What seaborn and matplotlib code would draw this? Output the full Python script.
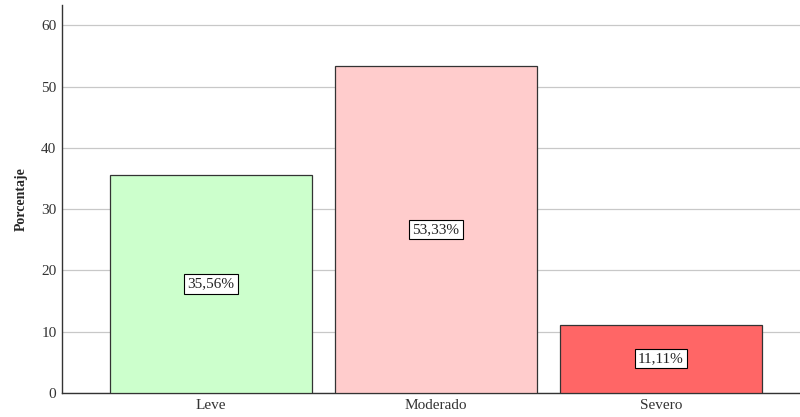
import matplotlib
matplotlib.use("Agg")
import matplotlib.pyplot as plt
import seaborn as sns
import pandas as pd

# data
categorias = ["Leve", "Moderado", "Severo"]
porcentajes = [35.56, 53.33, 11.11]
colores = ["#ccffcc", "#ffcccc", "#ff6666"]

df = pd.DataFrame({"Nivel": categorias, "Porcentaje": porcentajes})

sns.set_style("white")
plt.rcParams["font.family"] = ["Liberation Serif", "DejaVu Serif"]

fig = plt.figure(figsize=(8, 4.17), dpi=100)
ax = fig.add_axes([0.0775, 0.0576, 0.9225, 0.9304])

sns.barplot(data=df, x="Nivel", y="Porcentaje", hue="Nivel", palette=colores,
            saturation=1, width=0.898, edgecolor="#333333", linewidth=0.9,
            legend=False, ax=ax, zorder=3)

# percentage labels, boxed, in the middle of each bar
for i, v in enumerate(porcentajes):
    ax.text(i, v / 2, f"{v:.2f}%".replace(".", ","), ha="center", va="center",
            fontsize=11, color="#222222", zorder=5,
            bbox=dict(boxstyle="square,pad=0.2", facecolor="white",
                      edgecolor="black", linewidth=0.8))

ax.set_ylim(0, 63.3)
ax.set_xlim(-0.662, 2.618)
ax.set_yticks([0, 10, 20, 30, 40, 50, 60])
ax.yaxis.grid(True, color="#c8c8c8", linewidth=0.9, zorder=0)
ax.set_axisbelow(True)
ax.tick_params(axis="both", length=0, labelsize=11, colors="#333333", pad=4)
ax.set_xlabel("")
ax.set_ylabel("Porcentaje", fontsize=10, fontweight="bold", labelpad=10)

for s in ["top", "right"]:
    ax.spines[s].set_visible(False)
for s in ["left", "bottom"]:
    ax.spines[s].set_color("#333333")
    ax.spines[s].set_linewidth(1.0)

fig.savefig("out.png", dpi=100)
